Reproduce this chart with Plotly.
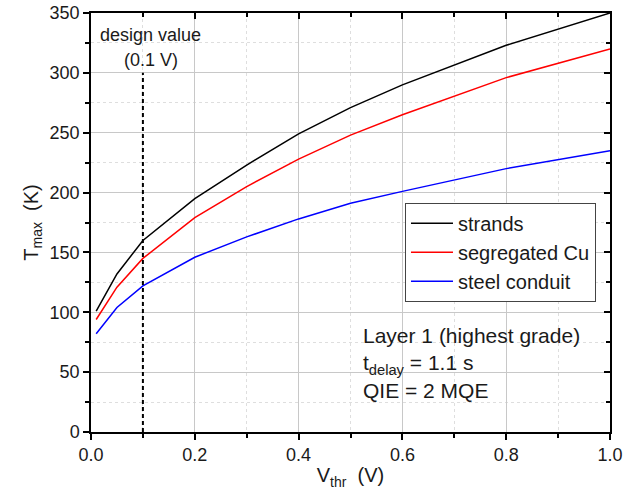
import plotly.graph_objects as go

v_thr = [0.01, 0.05, 0.1, 0.2, 0.3, 0.4, 0.5, 0.6, 0.8, 1.0]
t_strands = [101, 132, 160, 195, 223, 249, 271, 290, 323, 350]
t_segcu = [94, 121, 145, 179, 205, 228, 248, 265, 296, 320]
t_steel = [82, 104, 122, 146, 163, 178, 191, 201, 220, 235]
design_v = 0.1

FONT = "Liberation Sans, Arial, sans-serif"
TXT = "#1a1a1a"

fig = go.Figure()
for name, ys, col in [("strands", t_strands, "black"),
                      ("segregated Cu", t_segcu, "#ff0000"),
                      ("steel conduit", t_steel, "#0000ff")]:
    fig.add_trace(go.Scatter(x=v_thr, y=ys, mode="lines", name=name,
                             line=dict(color=col, width=1.5)))

fig.add_trace(go.Scatter(x=[design_v, design_v], y=[0, 300], mode="lines",
                         line=dict(color="black", width=2, dash="4px,3px"),
                         showlegend=False, hoverinfo="skip"))

axis_common = dict(showline=True, linecolor="black", linewidth=1.5,
                   ticks="outside", tickcolor="black", ticklen=6, tickwidth=1.5,
                   showgrid=True, gridcolor="#c8c8c8", gridwidth=1,
                   zeroline=False, tickfont=dict(size=18, color=TXT), automargin=False)

fig.update_xaxes(range=[0, 1.0], dtick=0.2, tickformat=".1f",
                 minor=dict(dtick=0.1, ticks="outside", ticklen=4, tickcolor="black",
                            showgrid=True, gridcolor="#dedede", griddash="dot"),
                 title=dict(text="V<sub>thr</sub>  (V)", font=dict(size=20, color=TXT), standoff=4),
                 **axis_common)
fig.update_yaxes(range=[0, 350], dtick=50,
                 minor=dict(dtick=25, ticks="outside", ticklen=4, tickcolor="black",
                            showgrid=True, gridcolor="#dedede", griddash="dot"),
                 title=dict(text="T<sub>max</sub>  (K)", font=dict(size=20, color=TXT), standoff=6),
                 **axis_common)

# mirrored axes with inward ticks
fig.update_layout(
    xaxis2=dict(overlaying="x", side="top", range=[0, 1.0], dtick=0.2, showticklabels=False,
                ticks="inside", ticklen=6, tickwidth=1.5, tickcolor="black", automargin=False,
                showline=True, linecolor="black", linewidth=1.5, showgrid=False, zeroline=False,
                minor=dict(dtick=0.1, ticks="inside", ticklen=4, tickcolor="black")),
    yaxis2=dict(overlaying="y", side="right", range=[0, 350], dtick=50, showticklabels=False,
                ticks="inside", ticklen=6, tickwidth=1.5, tickcolor="black", automargin=False,
                showline=True, linecolor="black", linewidth=1.5, showgrid=False, zeroline=False,
                minor=dict(dtick=25, ticks="inside", ticklen=4, tickcolor="black")),
)
fig.add_trace(go.Scatter(x=[None], y=[None], xaxis="x2", yaxis="y2", showlegend=False))

fig.add_annotation(x=0.0, y=332, xref="x", yref="y", text="design value",
                   showarrow=False, xanchor="left", yanchor="middle", xshift=7,
                   font=dict(size=18, family=FONT, color=TXT))
fig.add_annotation(x=design_v, y=311, xref="x", yref="y", text="(0.1 V)",
                   showarrow=False, xanchor="center", yanchor="middle", xshift=8,
                   font=dict(size=18, family=FONT, color=TXT))

fig.add_annotation(x=0.52, y=58, xref="x", yref="y",
                   text="Layer 1 (highest grade)<br>t<sub>delay</sub> = 1.1 s<br>QIE = 2 MQE",
                   showarrow=False, xanchor="left", yanchor="middle", align="left",
                   font=dict(size=21, family=FONT, color=TXT))

fig.update_layout(
    width=633, height=490,
    margin=dict(l=91, r=23, t=13, b=58),
    paper_bgcolor="white", plot_bgcolor="white",
    font=dict(family=FONT, color=TXT),
    legend=dict(x=0.973, y=0.547, xanchor="right", yanchor="top",
                bordercolor="#444", borderwidth=1, bgcolor="white",
                font=dict(size=20, color=TXT), tracegroupgap=0, itemwidth=42),
    showlegend=True,
)

fig.write_html("out.html")
